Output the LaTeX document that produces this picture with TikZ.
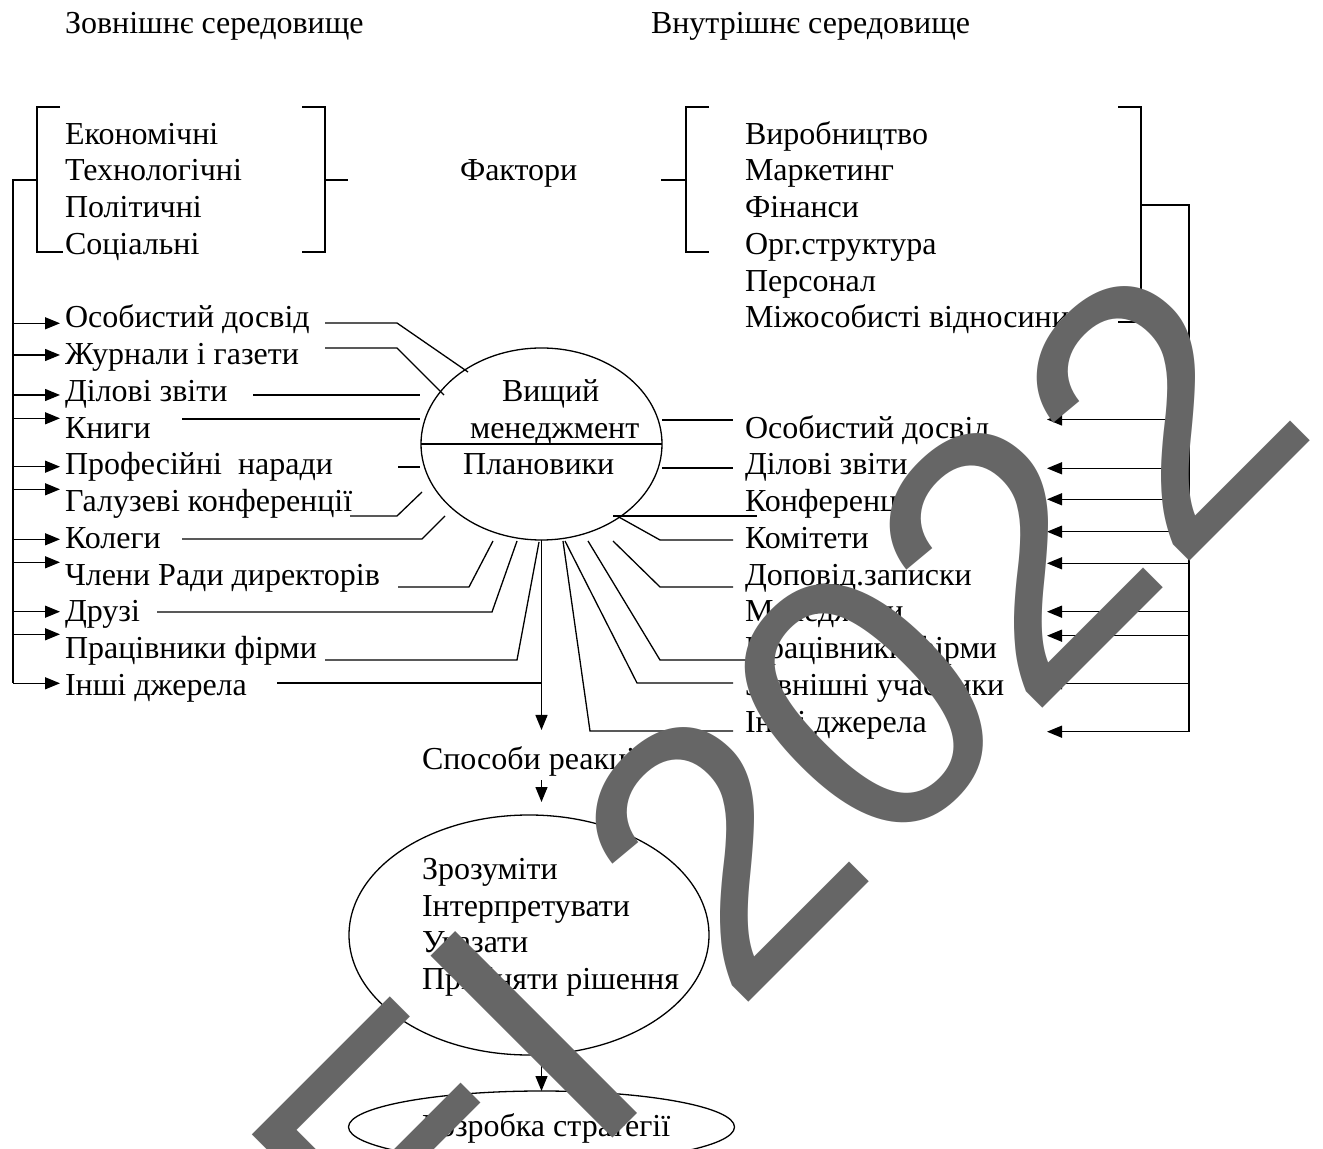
\documentclass[tikz,border=0pt]{standalone}
\usepackage{fontspec}
\setmainfont{Liberation Serif}
\newfontfamily\wmfont{Liberation Sans}
\usetikzlibrary{arrows.meta,shapes.geometric}
\begin{document}
\begin{tikzpicture}[x=0.5pt,y=-0.5pt,
  txt/.style={inner sep=0pt,outer sep=0pt,anchor=base west,font=\fontsize{16}{19}\selectfont},
  ln/.style={line width=0.65pt,line join=miter},
  arr/.style={ln,-{Triangle[length=7.5pt,width=6pt]}},
  oval/.style={draw,ellipse,line width=0.65pt,inner sep=0pt,outer sep=0pt},
  wm/.style={inner sep=0pt,outer sep=0pt,anchor=base west,rotate=45,text=black!60,font=\wmfont\fontsize{187}{187}\selectfont}
]
\fill[white] (0,0) rectangle (1323,1149);
\useasboundingbox (0,0) rectangle (1323,1149);

% ---------- titles ----------
\node[txt] (t1) at (65,34) {Зовнішнє середовище};
\node[txt] (t2) at (651,34) {Внутрішнє середовище};

% ---------- factors ----------
\node[txt] (f1) at (65,144.25) {Економічні};
\node[txt] (f2) at (65,181) {Технологічні};
\node[txt] (f3) at (65,217.75) {Політичні};
\node[txt] (f4) at (65,254.5) {Соціальні};
\node[txt] (fk) at (460,181) {Фактори};
\node[txt] (g1) at (745,144.25) {Виробництво};
\node[txt] (g2) at (745,181) {Маркетинг};
\node[txt] (g3) at (745,217.75) {Фінанси};
\node[txt] (g4) at (745,254.5) {Орг.структура};
\node[txt] (g5) at (745,291.25) {Персонал};
\node[txt] (g6) at (745,328) {Міжособисті відносини};

% brackets
\draw[ln] (60,107) -- (37,107) -- (37,252) -- (63,252);
\draw[ln] (302,107) -- (325,107) -- (325,252) -- (302,252);
\draw[ln] (325,180) -- (348,180);
\draw[ln] (709,107) -- (686,107) -- (686,252) -- (709,252);
\draw[ln] (661,180) -- (686,180);
\draw[ln] (1118,107) -- (1141,107) -- (1141,322) -- (1118,322);
\draw[ln] (1141,205) -- (1189,205) -- (1189,731.7);
\draw[ln] (37,180) -- (13,180) -- (13,683.3);

% ---------- left sources ----------
\node[txt] (l1) at (65,328) {Особистий досвід};
\node[txt] (l2) at (65,364.75) {Журнали і газети};
\node[txt] (l3) at (65,401.5) {Ділові звіти};
\node[txt] (l4) at (65,438.25) {Книги};
\node[txt] (l5) at (65,475) {Професійні\ \ наради};
\node[txt] (l6) at (65,511.75) {Галузеві конференції};
\node[txt] (l7) at (65,548.5) {Колеги};
\node[txt] (l8) at (65,585.25) {Члени Ради директорів};
\node[txt] (l9) at (65,622) {Друзі};
\node[txt] (l10) at (65,658.75) {Працівники фірми};
\node[txt] (l11) at (65,695.5) {Інші джерела};

\foreach \y [count=\i] in {323.3,355,395,418.3,466.7,489.3,539.3,562.3,611.7,634.3,683.3} {
  \coordinate (ls\i) at (13,\y);
  \coordinate (lt\i) at (60,\y);
  \draw[arr] (ls\i) -- (lt\i);
}

% ---------- right sources ----------
\node[txt] (r1) at (745,438.25) {Особистий досвід};
\node[txt] (r2) at (745,475) {Ділові звіти};
\node[txt] (r3) at (745,511.75) {Конференції};
\node[txt] (r4) at (745,548.5) {Комітети};
\node[txt] (r5) at (745,585.25) {Доповід.записки};
\node[txt] (r6) at (745,622) {Менеджери};
\node[txt] (r7) at (745,658.75) {Працівники фірми};
\node[txt] (r8) at (745,695.5) {Зовнішні учасники};
\node[txt] (r9) at (745,732.25) {Інші джерела};

\foreach \y [count=\i] in {419.5,468.3,499.3,531.7,563.3,611.7,635.7,683.3,731.7} {
  \coordinate (rs\i) at (1189,\y);
  \coordinate (rt\i) at (1047,\y);
  \draw[arr] (rs\i) -- (rt\i);
}

% ---------- central ellipse ----------
\node[oval,minimum width=120.5pt,minimum height=96pt] (e1) at (541.5,444) {};
\draw[ln] (e1.west) -- (e1.east);
\node[txt] (m1) at (502,401.5) {Вищий};
\node[txt] (m2) at (470,438.25) {менеджмент};
\node[txt] (m3) at (463,475) {Плановики};

% left connectors
\path (325,323) coordinate (a1) (397,323) coordinate (b1) (468,372) coordinate (c1)
      (325,348) coordinate (a2) (397,348) coordinate (b2) (444,395) coordinate (c2)
      (253,395) coordinate (a3) (420,395) coordinate (c3)
      (182,419) coordinate (a4) (420,419) coordinate (c4)
      (398,467) coordinate (a5) (420,467) coordinate (c5)
      (350,516) coordinate (a6) (397,516) coordinate (b6) (422,492) coordinate (c6)
      (182,539) coordinate (a7) (422,539) coordinate (b7) (445,516) coordinate (c7)
      (398,587) coordinate (a8) (469,587) coordinate (b8) (493,541) coordinate (c8)
      (157,612) coordinate (a9) (492,612) coordinate (b9) (517,541) coordinate (c9)
      (325,660) coordinate (a10) (517,660) coordinate (b10) (539,542) coordinate (c10)
      (277,683) coordinate (a11) (541.5,683) coordinate (c11);
\draw[ln] (a1) -- (b1) -- (c1);
\draw[ln] (a2) -- (b2) -- (c2);
\draw[ln] (a3) -- (c3);
\draw[ln] (a4) -- (c4);
\draw[ln] (a5) -- (c5);
\draw[ln] (a6) -- (b6) -- (c6);
\draw[ln] (a7) -- (b7) -- (c7);
\draw[ln] (a8) -- (b8) -- (c8);
\draw[ln] (a9) -- (b9) -- (c9);
\draw[ln] (a10) -- (b10) -- (c10);
\draw[ln] (a11) -- (c11);

% right connectors
\path (662,420) coordinate (d1) (733,420) coordinate (f1e)
      (662,468) coordinate (d2) (733,468) coordinate (f2e)
      (613,516) coordinate (d3) (757,516) coordinate (f3e)
      (617,516) coordinate (d4) (660,540) coordinate (k4) (733,540) coordinate (f4e)
      (613,541) coordinate (d5) (660,587) coordinate (k5) (733,587) coordinate (f5e)
      (588,541) coordinate (d7) (660,660) coordinate (k7) (757,660) coordinate (f7e)
      (565,541) coordinate (d8) (637,683) coordinate (k8) (733,683) coordinate (f8e)
      (563,541) coordinate (d9) (590,731) coordinate (k9) (733,731) coordinate (f9e);
\draw[ln] (d1) -- (f1e);
\draw[ln] (d2) -- (f2e);
\draw[ln] (d3) -- (f3e);
\draw[ln] (d4) -- (k4) -- (f4e);
\draw[ln] (d5) -- (k5) -- (f5e);
\draw[ln] (d7) -- (k7) -- (f7e);
\draw[ln] (d8) -- (k8) -- (f8e);
\draw[ln] (d9) -- (k9) -- (f9e);

% ---------- lower part ----------
\coordinate (o1) at (541.5,730);
\draw[arr] (e1.south) -- (o1);
\node[txt] (s1) at (422,769.25) {Способи реакції:};
\coordinate (o2a) at (541.5,780);
\coordinate (o2b) at (541.5,802);
\draw[arr] (o2a) -- (o2b);

\node[oval,minimum width=180pt,minimum height=120pt] (e2) at (529,935) {};
\node[txt] (q1) at (422,879.25) {Зрозуміти};
\node[txt] (q2) at (422,916) {Інтерпретувати};
\node[txt] (q3) at (422,952.75) {Указати};
\node[txt] (q4) at (422,989.5) {Прийняти рішення};

\node[oval,minimum width=193pt,minimum height=36pt] (e3) at (541.5,1127) {};
\node[txt] (z1) at (422,1136.5) {Розробка стратегії};
\coordinate (o3) at (541.5,1054.7);
\draw[arr] (o3) -- (e3.north);

% ---------- watermark ----------
\node[wm] (wmark) at (412.2,1338.6) {EI 2022};
\end{tikzpicture}
\end{document}
